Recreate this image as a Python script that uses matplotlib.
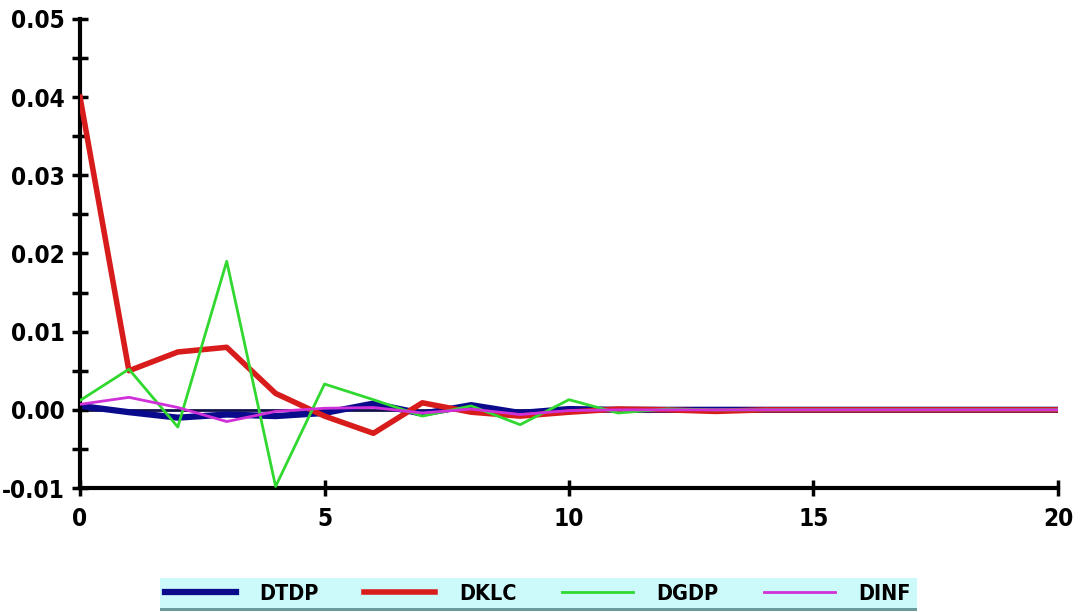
import matplotlib.pyplot as plt
from matplotlib.patches import Rectangle
from matplotlib.ticker import MultipleLocator

periods = list(range(21))

# response values
dtdp = [0.0005, -0.0003, -0.0010, -0.0006, -0.0008, -0.0004, 0.0008, -0.0005, 0.0006, -0.0004,
        0.0001, 0.0000, 0.0000, 0.0000, 0.0000, 0.0000, 0.0000, 0.0000, 0.0000, 0.0000, 0.0000]
dklc = [0.0400, 0.0050, 0.0074, 0.0080, 0.0021, -0.0008, -0.0030, 0.0009, -0.0003, -0.0008,
        -0.0003, 0.0001, 0.0000, -0.0002, 0.0000, 0.0000, 0.0000, 0.0000, 0.0000, 0.0000, 0.0000]
dgdp = [0.0012, 0.0052, -0.0022, 0.0190, -0.0098, 0.0033, 0.0013, -0.0008, 0.0005, -0.0019,
        0.0013, -0.0004, 0.0001, 0.0000, 0.0000, 0.0000, 0.0000, 0.0000, 0.0000, 0.0000, 0.0000]
dinf = [0.0007, 0.0016, 0.0003, -0.0015, -0.0002, 0.0002, 0.0003, -0.0004, 0.0001, -0.0006,
        -0.0001, 0.0000, 0.0000, 0.0000, 0.0000, 0.0000, 0.0000, 0.0000, 0.0000, 0.0000, 0.0000]

plt.rcParams['font.family'] = ['DejaVu Sans']
plt.rcParams['font.stretch'] = 'condensed'
plt.rcParams['font.weight'] = 'bold'

fig = plt.figure(figsize=(10.8, 6.12), dpi=100)
ax = fig.add_axes([0.0741, 0.2026, 0.9055, 0.7664])

ax.axhline(0, color='#10104a', lw=2, zorder=1)
ax.plot(periods, dtdp, color='#0a0a8c', lw=4.5, label='DTDP', zorder=2)
ax.plot(periods, dklc, color='#d81c1c', lw=4, label='DKLC', zorder=3)
ax.plot(periods, dgdp, color='#30d830', lw=2, label='DGDP', zorder=4)
ax.plot(periods, dinf, color='#d030d8', lw=2, label='DINF', zorder=5)

ax.set_xlim(0, 20)
ax.set_ylim(-0.01, 0.05)
ax.xaxis.set_major_locator(MultipleLocator(5))
ax.yaxis.set_major_locator(MultipleLocator(0.01))
ax.yaxis.set_minor_locator(MultipleLocator(0.005))
ax.yaxis.set_major_formatter(plt.FuncFormatter(lambda v, p: '%.2f' % v))

for s in ['top', 'right']:
    ax.spines[s].set_visible(False)
for s in ['left', 'bottom']:
    ax.spines[s].set_linewidth(3)
ax.tick_params(which='both', direction='inout', length=12, width=2.5, labelsize=17.5, pad=5)
ax.tick_params(axis='x', pad=8)

fig.patches.append(Rectangle((160 / 1080, 1 - 608 / 612), 757 / 1080, 30 / 612,
                             transform=fig.transFigure, facecolor='#ccf9f9',
                             edgecolor='none', zorder=0))
fig.patches.append(Rectangle((160 / 1080, 1 - 611 / 612), 757 / 1080, 3 / 612,
                             transform=fig.transFigure, facecolor='#6a9a9a',
                             edgecolor='none', zorder=0))
fig.legend(loc='center', bbox_to_anchor=(538 / 1080, 1 - 594 / 612), ncol=4,
           frameon=False, fontsize=15.5, handlelength=3.3, columnspacing=2.1,
           handletextpad=1.1, borderaxespad=0)

plt.savefig('out.png')
